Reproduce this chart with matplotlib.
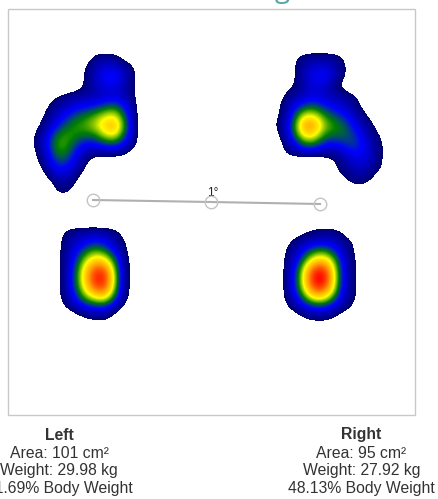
import matplotlib
matplotlib.use('Agg')
import matplotlib.pyplot as plt
from matplotlib.colors import LinearSegmentedColormap
from matplotlib.patches import Rectangle
import numpy as np

plt.rcParams['font.family'] = ['Liberation Sans', 'DejaVu Sans']

# pressure readings, one row per 10 px (below 0 = no contact)
left_fore_x = [25, 35, 45, 55, 65, 75, 85, 95, 105, 115, 125, 135, 145]
left_fore_y = [45, 55, 65, 75, 85, 95, 105, 115, 125, 135, 145, 155, 165, 175, 185, 195, 205]
left_fore = [
    [-20, -20, -20, -20, -20, -20, -20, -20, -20, -20, -20, -20, -20],
    [-20, -20, -20, -20, -20, -20, -12,   3,   6,   4,  -8, -20, -20],
    [-20, -20, -20, -20, -20, -15,  -1,  10,  16,  14,   8,  -1, -20],
    [-20, -20, -20, -20, -20, -12,   2,  14,  26,  30,  14,   3, -20],
    [-20, -20, -20, -20, -20, -12,   2,  12,  22,  22,  12,   1, -20],
    [-20, -20, -12,  -2,   4,   8,   9,  10,  14,  16,  10,   2, -20],
    [-20, -20,  -3,   6,  12,  18,  22,  26,  32,  36,  24,   5, -20],
    [-20, -12,   2,  12,  24,  34,  40,  46,  56,  60,  36,   7, -20],
    [-20,  -5,   6,  22,  36,  44,  48,  56,  70,  76,  44,   9, -20],
    [-15,   2,  14,  38,  46,  44,  40,  42,  58,  64,  36,   8, -20],
    [-15,   3,  18,  44,  48,  34,  22,  22,  30,  32,  20,   5, -20],
    [-20,  -1,  12,  38,  42,  24,   9,   3,   4,   4,   1, -15, -20],
    [-20,  -6,   8,  28,  30,  17,   4, -15, -20, -20, -20, -20, -20],
    [-20, -20,   1,  14,  17,   8,  -6, -20, -20, -20, -20, -20, -20],
    [-20, -20, -15,   3,   7,   0, -15, -20, -20, -20, -20, -20, -20],
    [-20, -20, -20,  -1,   1,  -6, -20, -20, -20, -20, -20, -20, -20],
    [-20, -20, -20, -20, -20, -20, -20, -20, -20, -20, -20, -20, -20],
]

right_fore_x = [265, 275, 285, 295, 305, 315, 325, 335, 345, 355, 365, 375, 385, 395]
right_fore_y = [45, 55, 65, 75, 85, 95, 105, 115, 125, 135, 145, 155, 165, 175, 185, 195]
right_fore = [
    [-20, -20, -20, -20, -20, -20, -20, -20, -20, -20, -20, -20, -20, -20],
    [-20, -20, -20,  -3,   5,   6,   6,   5,  -3, -20, -20, -20, -20, -20],
    [-20, -20, -20,   2,  10,  16,  15,  10,   3, -15, -20, -20, -20, -20],
    [-20, -20, -20,   2,  14,  25,  27,  16,   2, -15, -20, -20, -20, -20],
    [-20, -20,  -8,   1,  12,  20,  18,   3,  -6, -20, -20, -20, -20, -20],
    [-20, -12,   3,   8,  14,  18,  14,  10,   8,   2,  -8, -20, -20, -20],
    [-20,  -6,   6,  20,  32,  34,  26,  20,  14,   5,  -5, -20, -20, -20],
    [-20,  -4,   7,  36,  60,  58,  42,  34,  26,  14,   2,  -8, -20, -20],
    [-20,   1,  12,  46,  82,  78,  52,  44,  38,  22,  10,  -1, -15, -20],
    [-20,  -6,  10,  40,  68,  64,  42,  40,  38,  32,  16,   5,  -5, -20],
    [-20, -15,   5,  20,  40,  38,  24,  22,  30,  34,  22,   8,  -1, -20],
    [-20, -20,   0,   4,   6,   6,   4,   4,  14,  24,  22,   9,  -2, -20],
    [-20, -20, -20, -20, -20, -20, -15,  -1,   8,  15,  16,   8,  -2, -20],
    [-20, -20, -20, -20, -20, -20, -20,  -3,   3,   9,   9,   0,  -8, -20],
    [-20, -20, -20, -20, -20, -20, -20, -20,  -6,   2,   1,  -8, -20, -20],
    [-20, -20, -20, -20, -20, -20, -20, -20, -20, -20, -20, -20, -20, -20],
]

left_heel_x = [55, 65, 75, 85, 95, 105, 115, 125, 135]
left_heel_y = [220, 230, 240, 250, 260, 270, 280, 290, 300, 310, 320, 330]
left_heel = [
    [-20, -20, -20, -20, -20, -20, -20, -20, -20],
    [-15,   2,   6,   8,   8,   7,   3,  -8, -20],
    [ -8,   5,  13,  18,  24,  20,  10,   1, -15],
    [ -8,   6,  20,  36,  46,  40,  20,   3, -12],
    [ -8,   7,  28,  54,  70,  66,  40,   5,  -8],
    [ -8,   7,  34,  68,  92,  92,  52,   6,  -8],
    [ -8,   7,  36,  70,  98,  98,  56,   6,  -8],
    [ -8,   7,  32,  62,  84,  88,  50,   5,  -8],
    [ -8,   5,  22,  42,  54,  58,  32,   3, -10],
    [-15,  -3,   6,  14,  18,  18,   5,  -8, -20],
    [-20, -20, -12,  -3,   1,   2,  -8, -20, -20],
    [-20, -20, -20, -20, -20, -20, -20, -20, -20],
]

right_heel_x = [275, 285, 295, 305, 315, 325, 335, 345, 355, 365]
right_heel_y = [220, 230, 240, 250, 260, 270, 280, 290, 300, 310, 320, 330]
right_heel = [
    [-20, -20, -20, -20, -20, -20, -20, -20, -20, -20],
    [-20, -20, -10,  -3,   3,   6,   4,  -5, -20, -20],
    [-20,  -6,   4,   8,  12,  14,  12,   6,  -2, -15],
    [-20,   1,   8,  26,  40,  42,  28,  10,  -1, -15],
    [-20,   3,  16,  46,  68,  70,  48,  14,   1, -12],
    [-20,   4,  26,  66,  96,  96,  58,  16,   2, -12],
    [-20,   4,  28,  70, 104, 102,  60,  16,   2, -12],
    [-20,   4,  26,  62,  90,  86,  54,  14,   2, -12],
    [-20,   2,  14,  40,  58,  56,  34,  10,   1, -12],
    [-20,  -6,   4,  12,  18,  18,  10,   3,  -5, -20],
    [-20, -20, -12,  -1,   3,   3,  -3, -15, -20, -20],
    [-20, -20, -20, -20, -20, -20, -20, -20, -20, -20],
]

balance_x = [93, 211, 320]
balance_y = [200, 202, 204]
balance_label = '1°'

side_names = ['Left', 'Right']
side_areas = ['Area: 101 cm²', 'Area: 95 cm²']
side_weights = ['Weight: 29.98 kg', 'Weight: 27.92 kg']
side_percents = ['51.69% Body Weight', '48.13% Body Weight']

pressure = LinearSegmentedColormap.from_list('pressure', [
    (0.00, '#00006e'),
    (0.25, '#0000ff'),
    (0.42, '#008000'),
    (0.60, '#ffff00'),
    (0.78, '#ffa000'),
    (1.00, '#ff0000'),
])
pressure.set_under((1, 1, 1, 0))

fig = plt.figure(figsize=(4.38, 4.99), dpi=100)
ax = fig.add_axes([0, 0, 1, 1])
ax.axis('off')

for xs, ys, grid in [(left_fore_x, left_fore_y, left_fore),
                     (right_fore_x, right_fore_y, right_fore),
                     (left_heel_x, left_heel_y, left_heel),
                     (right_heel_x, right_heel_y, right_heel)]:
    ax.imshow(np.array(grid, dtype=float), cmap=pressure, vmin=0, vmax=100,
              interpolation='bicubic', aspect='auto',
              extent=[xs[0] - 5, xs[-1] + 5, ys[-1] + 5, ys[0] - 5])

ax.add_patch(Rectangle((7.5, 8.5), 407, 406.5, fill=False, ec='#c8c8c8', lw=1))

ax.plot(balance_x, balance_y, color='#b0b0b0', lw=1.5, zorder=3)
ax.plot(balance_x, balance_y, ls='none', marker='o', ms=9, mfc='none', mec='#c4c4c4', mew=1, zorder=4)
ax.text(212.5, 193, balance_label, ha='center', va='center', fontsize=8.5, color='#222222')

# title of the page is cut off by the top edge, only the tail of the g shows
ax.text(282, -3, 'g', ha='center', va='baseline', fontsize=20, color='#55a5ab', family='Open Sans')

for cx, name, area, weight, percent in zip([59, 361.5], side_names, side_areas, side_weights, side_percents):
    ax.text(cx, 435, name, ha='center', va='center', fontsize=11.3, fontweight='bold', color='#333333')
    ax.text(cx, 453, area, ha='center', va='center', fontsize=11.3, color='#333333')
    ax.text(cx, 471, weight, ha='center', va='center', fontsize=11.3, color='#333333')
    ax.text(cx, 489, percent, ha='center', va='center', fontsize=11.3, color='#333333')

ax.set_xlim(0, 438)
ax.set_ylim(499, 0)

fig.savefig('out.png', dpi=100)
